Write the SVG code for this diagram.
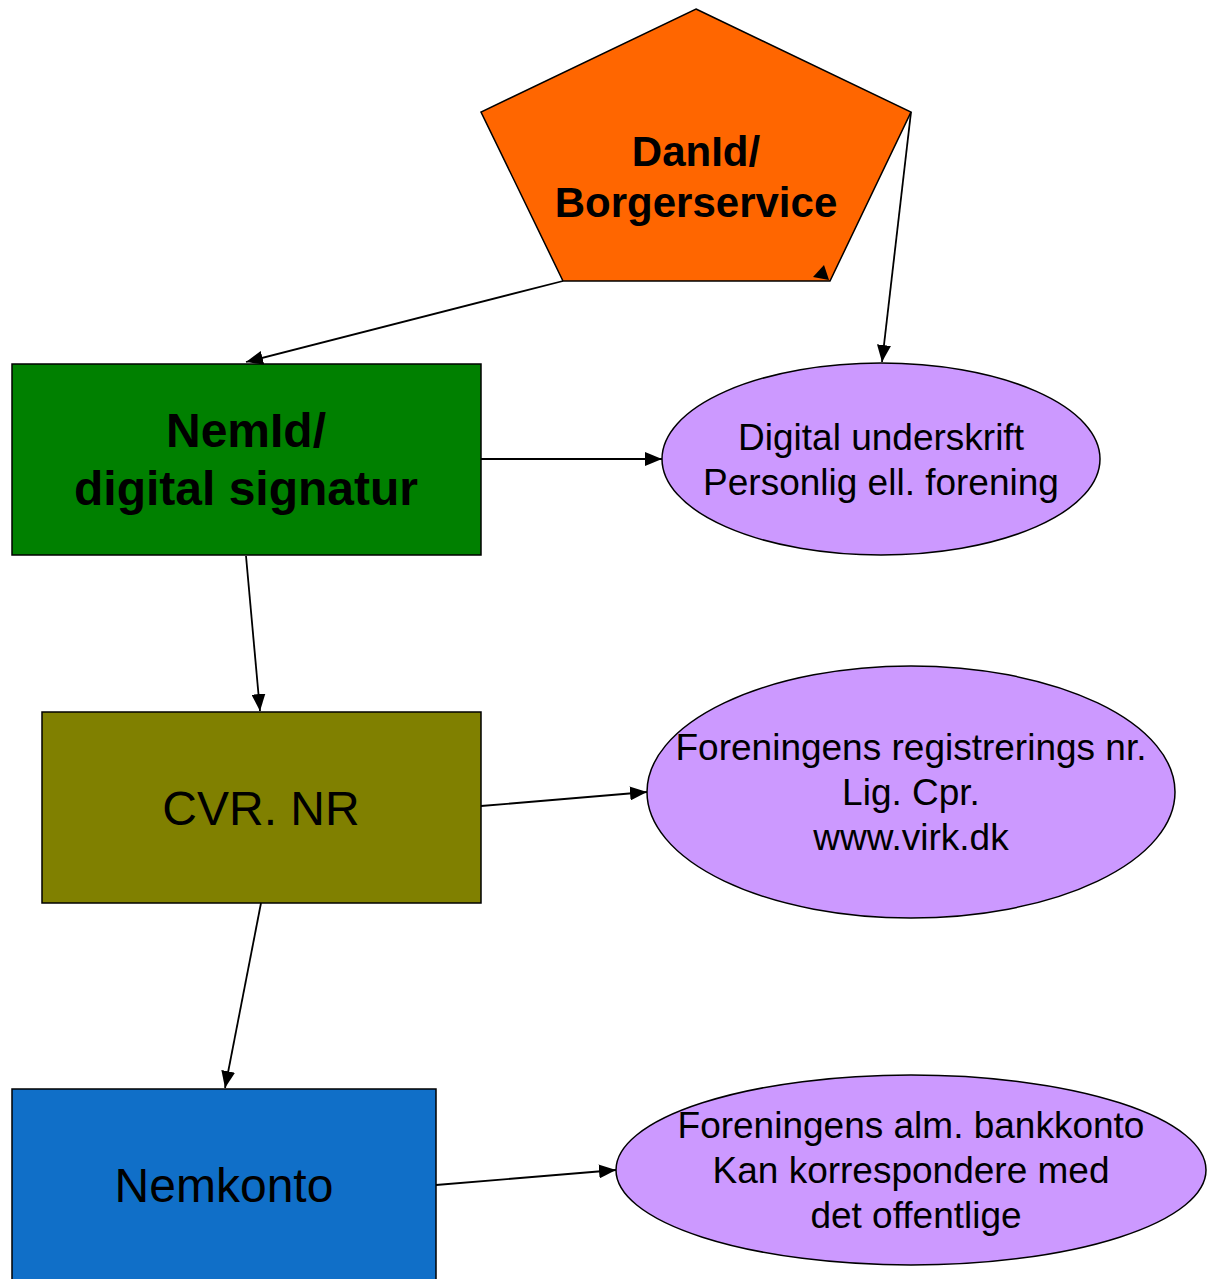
<svg xmlns="http://www.w3.org/2000/svg" width="1207" height="1279" viewBox="0 0 1207 1279">
<style>
.box{stroke:#000;stroke-width:1.5}
.ell{fill:#CC99FF;stroke:#000;stroke-width:1.5}
.b{font-family:"Liberation Sans",Arial,sans-serif;font-weight:bold;fill:#000;text-anchor:middle}
.t{font-family:"Liberation Sans",Arial,sans-serif;fill:#000;text-anchor:middle}
.c{stroke:#000;stroke-width:1.8;fill:none;marker-end:url(#ah)}
</style>
<defs>
<marker id="ah" markerUnits="userSpaceOnUse" markerWidth="17" markerHeight="14" refX="17" refY="7" orient="auto">
<path d="M0,0 L17,7 L0,14 Z" fill="#000"/>
</marker>
</defs>
<rect width="1207" height="1279" fill="#fff"/>
<g id="danid">
<polygon class="box" points="696,9 911,112 830,281 563,281 481,112" fill="#FF6600"/>
<text class="b" x="696" y="166" font-size="42">DanId/</text>
<text class="b" x="696" y="217" font-size="42">Borgerservice</text>
</g>
<g id="nemid">
<rect class="box" x="12" y="364" width="469" height="191" fill="#008000"/>
<text class="b" x="246" y="447" font-size="48">NemId/</text>
<text class="b" x="246" y="505" font-size="48">digital signatur</text>
</g>
<g id="cvr">
<rect class="box" x="42" y="712" width="439" height="191" fill="#808000"/>
<text class="t" x="261" y="825" font-size="48">CVR. NR</text>
</g>
<g id="nemkonto">
<rect class="box" x="12" y="1089" width="424" height="200" fill="#106FC8"/>
<text class="t" x="224" y="1202" font-size="48">Nemkonto</text>
</g>
<g id="signatur-info">
<ellipse class="ell" cx="881" cy="459" rx="219" ry="96"/>
<text class="t" x="881" y="450" font-size="37">Digital underskrift</text>
<text class="t" x="881" y="495" font-size="37">Personlig ell. forening</text>
</g>
<g id="cvr-info">
<ellipse class="ell" cx="911" cy="792" rx="264" ry="126"/>
<text class="t" x="911" y="760" font-size="37">Foreningens registrerings nr.</text>
<text class="t" x="911" y="805" font-size="37">Lig. Cpr.</text>
<text class="t" x="911" y="850" font-size="37">www.virk.dk</text>
</g>
<g id="nemkonto-info">
<ellipse class="ell" cx="911" cy="1170" rx="295" ry="95"/>
<text class="t" x="911" y="1138" font-size="37">Foreningens alm. bankkonto</text>
<text class="t" x="911" y="1183" font-size="37">Kan korrespondere med</text>
<text class="t" x="916" y="1228" font-size="37">det offentlige</text>
</g>
<g id="connectors">
<path class="c" d="M563,281 L246,362"/>
<path class="c" d="M911,112 L882,362"/>
<path class="c" d="M481,459 L662,459"/>
<path class="c" d="M246,556 L260,711"/>
<path class="c" d="M481,806 L647,792"/>
<path class="c" d="M261,903 L225,1088"/>
<path class="c" d="M436,1185 L616,1170"/>
<path d="M829,280 L813,277 L824,265 Z" fill="#000"/>
</g>
</svg>
